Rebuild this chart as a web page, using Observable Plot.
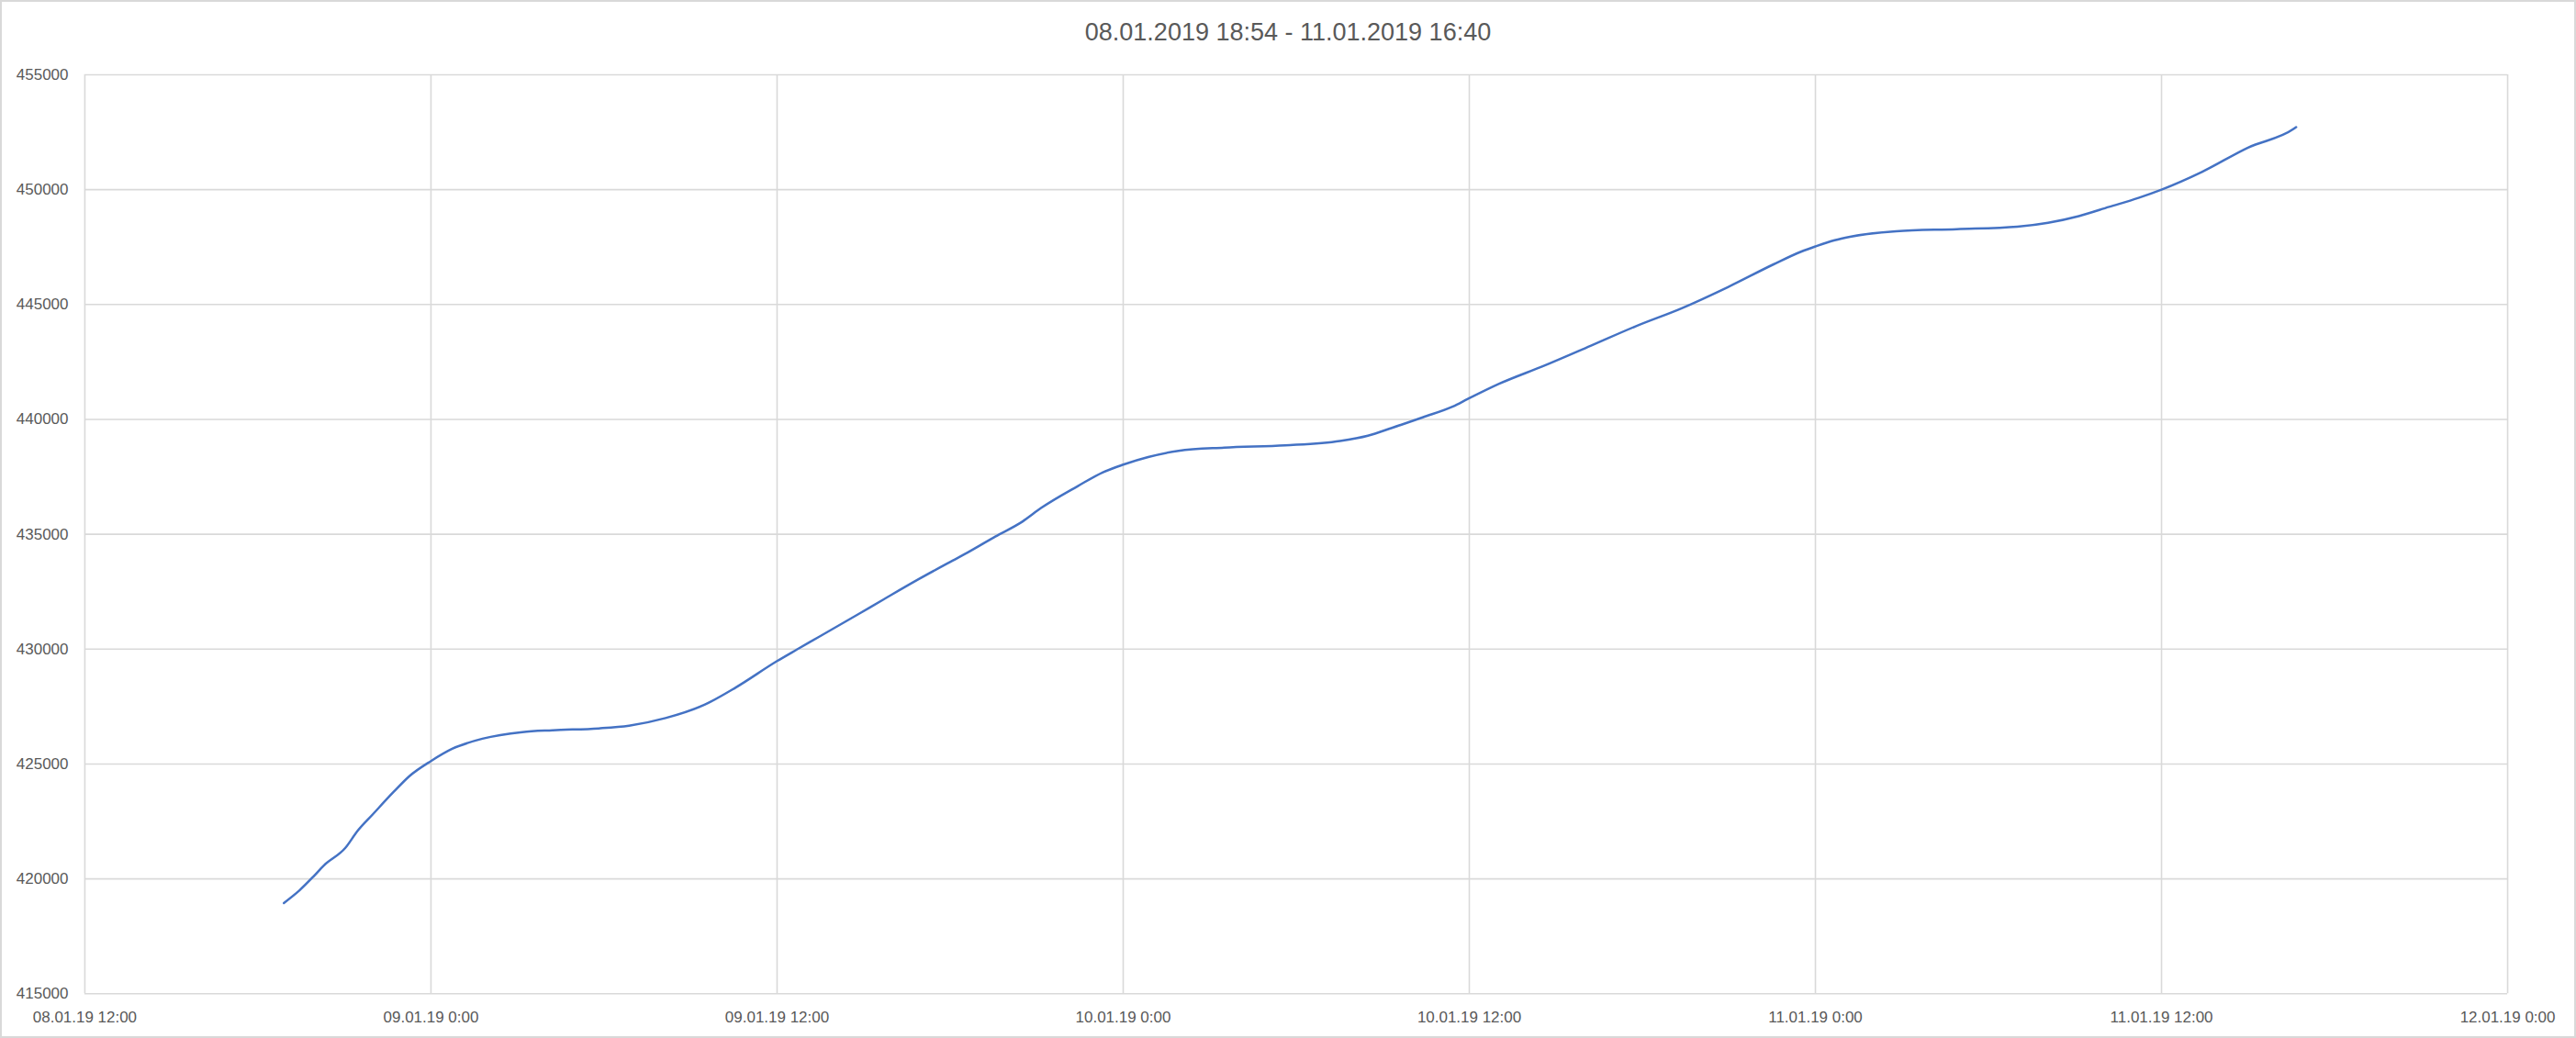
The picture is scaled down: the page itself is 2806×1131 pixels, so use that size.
<!DOCTYPE html>
<html>
<head>
<meta charset="utf-8">
<script src="https://cdn.jsdelivr.net/npm/d3@7"></script>
<script src="https://cdn.jsdelivr.net/npm/@observablehq/plot@0.6"></script>
<style>
  html, body { margin: 0; padding: 0; background: #fff; }
  #chart {
    position: relative; width: 2806px; height: 1131px; box-sizing: border-box;
    border: 2px solid #d9d9d9; background: #fff; overflow: hidden;
    font-family: "Liberation Sans", Arial, sans-serif;
  }
  #title {
    position: absolute; left: 0; right: 0; top: 17px; text-align: center;
    font-size: 27px; color: #595959; line-height: 32px;
  }
  #plot { position: absolute; left: -2px; top: 58px; }
</style>
</head>
<body>
<div id="chart">
  <div id="title">08.01.2019 18:54 - 11.01.2019 16:40</div>
  <div id="plot"></div>
</div>
<script>
const titleText = "08.01.2019 18:54 - 11.01.2019 16:40";

const times = [
  "2019-01-08T18:54", "2019-01-08T19:26", "2019-01-08T19:55", "2019-01-08T20:17",
  "2019-01-08T21:02", "2019-01-08T21:27", "2019-01-08T21:59", "2019-01-08T22:43",
  "2019-01-08T23:15", "2019-01-09T00:00", "2019-01-09T00:44", "2019-01-09T01:47",
  "2019-01-09T03:10", "2019-01-09T04:13", "2019-01-09T05:49", "2019-01-09T06:52",
  "2019-01-09T08:08", "2019-01-09T09:31", "2019-01-09T10:34", "2019-01-09T12:00",
  "2019-01-09T12:41", "2019-01-09T13:26", "2019-01-09T14:48", "2019-01-09T15:42",
  "2019-01-09T16:55", "2019-01-09T18:05", "2019-01-09T18:36", "2019-01-09T19:34",
  "2019-01-09T20:31", "2019-01-09T21:09", "2019-01-09T22:25", "2019-01-09T23:18",
  "2019-01-10T00:00", "2019-01-10T00:52", "2019-01-10T01:55", "2019-01-10T03:30",
  "2019-01-10T05:37", "2019-01-10T07:31", "2019-01-10T08:29", "2019-01-10T09:19",
  "2019-01-10T10:23", "2019-01-10T11:26", "2019-01-10T11:57", "2019-01-10T13:02",
  "2019-01-10T14:36", "2019-01-10T16:12", "2019-01-10T17:47", "2019-01-10T19:22",
  "2019-01-10T20:58", "2019-01-10T22:33", "2019-01-10T23:30", "2019-01-11T00:00",
  "2019-01-11T00:40", "2019-01-11T01:12", "2019-01-11T02:48", "2019-01-11T04:54",
  "2019-01-11T07:00", "2019-01-11T08:04", "2019-01-11T09:08", "2019-01-11T10:11",
  "2019-01-11T11:12", "2019-01-11T12:00", "2019-01-11T13:24", "2019-01-11T15:00",
  "2019-01-11T16:36", "2019-01-11T16:40"
];

const values = [
  418950, 419490, 420090, 420580,
  421350, 422080, 422810, 423800,
  424470, 425130, 425660, 426100,
  426390, 426470, 426550, 426670,
  427000, 427600, 428330, 429480,
  429980, 430520, 431510, 432170,
  433050, 433850, 434200, 434900,
  435560, 436140, 437090, 437700,
  438030, 438360, 438630, 438770,
  438870, 439060, 439290, 439630,
  440090, 440560, 440890, 441550,
  442340, 443200, 444060, 444840,
  445760, 446750, 447300, 447530,
  447800, 447950, 448190, 448280,
  448390, 448560, 448850, 449250,
  449640, 450000, 450770, 451830,
  452660, 452720
];

const xTicks = [
  "2019-01-08T12:00", "2019-01-09T00:00", "2019-01-09T12:00", "2019-01-10T00:00",
  "2019-01-10T12:00", "2019-01-11T00:00", "2019-01-11T12:00", "2019-01-12T00:00"
];
const yTicks = [415000, 420000, 425000, 430000, 435000, 440000, 445000, 450000, 455000];

const parse = s => new Date(s + ":00Z");
const data = times.map((t, i) => ({ t: parse(t), v: values[i] }));
const xTickDates = xTicks.map(parse);
const fmt = d3.utcFormat("%d.%m.%y %-H:%M");

const grid = "#d9d9d9";
const textColor = "#595959";

const chart = Plot.plot({
  width: 2806,
  height: 1069,
  marginLeft: 92,
  marginRight: 73,
  marginTop: 21,
  marginBottom: 46,
  style: { fontFamily: "'Liberation Sans', Arial, sans-serif", fontSize: "17px", color: textColor, background: "transparent" },
  x: { type: "utc", domain: [xTickDates[0], xTickDates[xTickDates.length - 1]], ticks: xTickDates, tickFormat: fmt },
  y: { domain: [yTicks[0], yTicks[yTicks.length - 1]], ticks: yTicks, tickFormat: d => String(d) },
  marks: [
    Plot.gridX(xTickDates, { stroke: grid, strokeOpacity: 1, strokeWidth: 1.6 }),
    Plot.gridY(yTicks, { stroke: grid, strokeOpacity: 1, strokeWidth: 1.6 }),
    Plot.axisX(xTickDates, { tickSize: 0, tickPadding: 19, tickFormat: fmt, fill: textColor, fontSize: 17, label: null }),
    Plot.axisY(yTicks, { tickSize: 0, tickPadding: 18, tickFormat: d => String(d), fill: textColor, fontSize: 17, label: null }),
    Plot.line(data, { x: "t", y: "v", stroke: "#4472C4", strokeWidth: 2.5, curve: "monotone-x" })
  ]
});
document.getElementById("plot").appendChild(chart);
</script>
</body>
</html>
